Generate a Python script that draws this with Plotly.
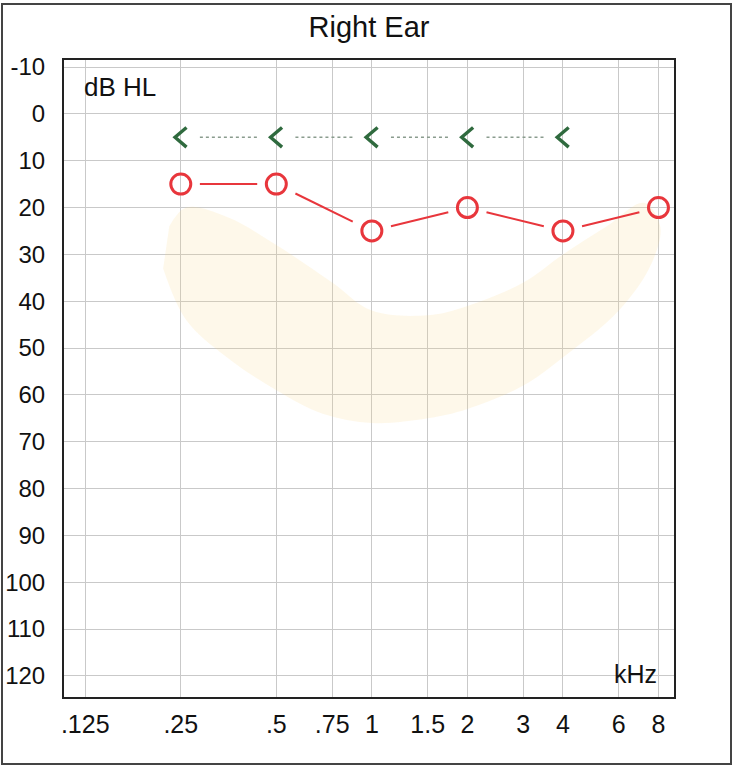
import math
import plotly.graph_objects as go

# ---- data ----
ac_freq = [0.25, 0.5, 1, 2, 4, 8]          # kHz, air conduction (O)
ac_db = [15, 15, 25, 20, 25, 20]
bc_freq = [0.25, 0.5, 1, 2, 4]             # kHz, bone conduction (<)
bc_db = [5, 5, 5, 5, 5]

x_tickvals = [0.125, 0.25, 0.5, 0.75, 1, 1.5, 2, 3, 4, 6, 8]
x_ticktext = [".125", ".25", ".5", ".75", "1", "1.5", "2", "3", "4", "6", "8"]
y_tickvals = [-10, 0, 10, 20, 30, 40, 50, 60, 70, 80, 90, 100, 110, 120]
y_ticktext = ["-10", "0", "10", "20", "30", "40", "50", "60", "70", "80", "90", "100", "110", "120"]

# speech banana outline (kHz, dB HL)
banana_freq = [0.23, 0.26, 0.35, 0.5, 0.75, 1.0, 1.5, 2.0, 3.0, 4.0, 5.5, 7.2, 8.1, 7.6,
               6.0, 4.0, 3.0, 2.0, 1.5, 1.0, 0.7, 0.5, 0.35, 0.26, 0.22]
banana_db = [24, 20, 22, 28, 36, 42, 43, 41, 36, 30, 24, 19, 24, 32,
             42, 52, 58, 63, 65, 66, 64, 59, 52, 44, 33]


def gapped(xs, ys, t):
    """Connecting segments between successive points, leaving a gap at each symbol."""
    X, Y = [], []
    for i in range(len(xs) - 1):
        l0, l1 = math.log2(xs[i]), math.log2(xs[i + 1])
        for f in (t, 1 - t):
            X.append(2 ** (l0 + f * (l1 - l0)))
            Y.append(ys[i] + f * (ys[i + 1] - ys[i]))
        X.append(None)
        Y.append(None)
    return X, Y


def chevrons(xs, ys, half_w_oct, half_h_db):
    """'<' audiogram symbol drawn around each data point."""
    X, Y = [], []
    for f, d in zip(xs, ys):
        X += [f * 2 ** half_w_oct, f * 2 ** (-half_w_oct), f * 2 ** half_w_oct, None]
        Y += [d - half_h_db, d, d + half_h_db, None]
    return X, Y


FONT = "Liberation Sans, Arial, sans-serif"
fig = go.Figure()

fig.add_trace(go.Scatter(
    x=banana_freq, y=banana_db, mode="lines", fill="toself",
    fillcolor="rgba(250, 215, 140, 0.18)", line=dict(width=0, shape="spline", smoothing=1.0),
    hoverinfo="skip", showlegend=False))

bx, by = gapped(bc_freq, bc_db, 0.2)
fig.add_trace(go.Scatter(x=bx, y=by, mode="lines",
                         line=dict(color="#8a9c8e", width=1.4, dash="dot"),
                         showlegend=False, hoverinfo="skip"))
cx, cy = chevrons(bc_freq, bc_db, 0.06, 2.1)
fig.add_trace(go.Scatter(x=cx, y=cy, mode="lines",
                         line=dict(color="#2f6a3e", width=3.4),
                         showlegend=False, hoverinfo="skip"))

ax_, ay_ = gapped(ac_freq, ac_db, 0.2)
fig.add_trace(go.Scatter(x=ax_, y=ay_, mode="lines",
                         line=dict(color="#e8363c", width=2),
                         showlegend=False, hoverinfo="skip"))
fig.add_trace(go.Scatter(x=ac_freq, y=ac_db, mode="markers",
                         marker=dict(symbol="circle-open", size=20, color="#e8363c",
                                     line=dict(width=3, color="#e8363c")),
                         showlegend=False))

L, R, T, B = 64, 61, 60, 69
W, H = 735, 766
pw, ph = W - L - R, H - T - B

fig.update_layout(
    width=W, height=H,
    margin=dict(l=L, r=R, t=T, b=B),
    paper_bgcolor="white", plot_bgcolor="white",
    font=dict(family=FONT, color="#111"),
    title=dict(text="Right Ear", x=(L + pw / 2) / W, xanchor="center",
               y=1 - 27 / H, yanchor="middle", font=dict(size=29, color="#111")),
    xaxis=dict(type="log", range=[-0.970, 0.952], tickvals=x_tickvals, ticktext=x_ticktext,
               showgrid=True, gridcolor="#c9c9c9", gridwidth=1, automargin=False,
               showline=True, linecolor="#222", linewidth=2, mirror=True,
               ticks="", ticklabelstandoff=4, tickfont=dict(size=25), zeroline=False),
    yaxis=dict(range=[124.5, -11.5], tickvals=y_tickvals, ticktext=y_ticktext,
               showgrid=True, gridcolor="#c9c9c9", gridwidth=1, automargin=False,
               showline=True, linecolor="#222", linewidth=2, mirror=True,
               ticks="", ticklabelstandoff=12, tickfont=dict(size=24), zeroline=False),
    annotations=[
        dict(text="dB HL", xref="paper", yref="paper", x=(82 - L) / pw, y=1 - (87 - T) / ph,
             xanchor="left", yanchor="middle", showarrow=False, font=dict(size=26, color="#111")),
        dict(text="kHz", xref="paper", yref="paper", x=(659 - L) / pw, y=(H - B - 674) / ph,
             xanchor="right", yanchor="middle", showarrow=False, font=dict(size=25, color="#111")),
    ],
    shapes=[
        dict(type="rect", xref="paper", yref="paper",
             x0=(2 - L) / pw, x1=(731 - L) / pw,
             y0=-(764 - (H - B)) / ph, y1=1 + (T - 4) / ph,
             line=dict(color="#444", width=2), fillcolor="rgba(0,0,0,0)", layer="below"),
    ],
)

fig.write_html("out.html", config={"displayModeBar": False},
               post_script="document.body.style.margin='0';")
